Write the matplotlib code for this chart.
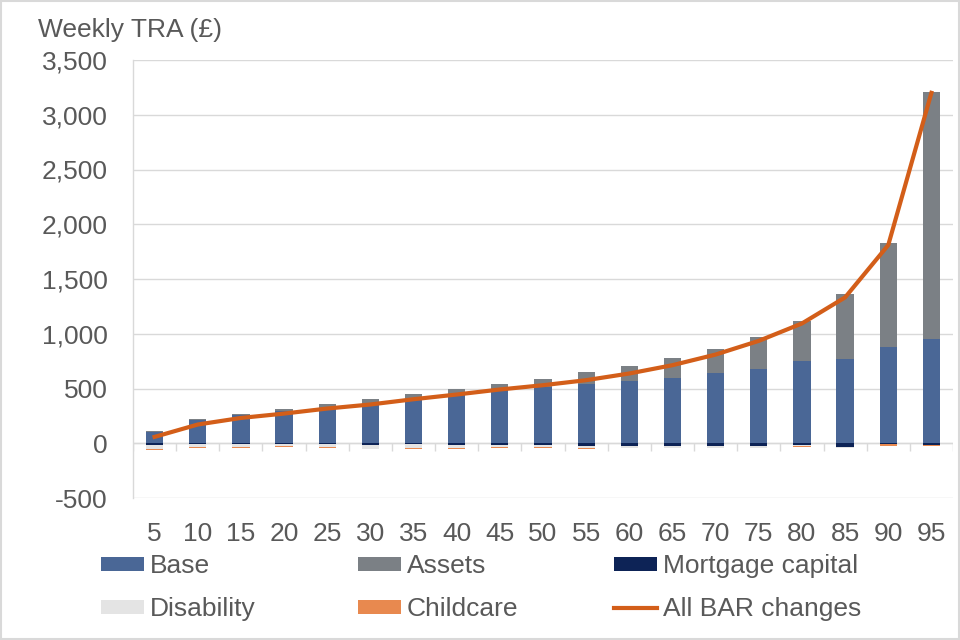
import matplotlib
matplotlib.use('Agg')
import matplotlib.pyplot as plt
from matplotlib.patches import Rectangle
import numpy as np

plt.rcParams['font.family'] = ['Liberation Sans', 'DejaVu Sans']

# data (weekly TRA, £)
percentiles = ['5', '10', '15', '20', '25', '30', '35', '40', '45', '50',
               '55', '60', '65', '70', '75', '80', '85', '90', '95']
base = [100, 215, 262, 295, 326, 363, 408, 448, 500, 515,
        539, 573, 600, 642, 678, 752, 771, 880, 953]
assets = [12, 4, 9, 15, 28, 39, 40, 46, 37, 70,
          110, 131, 174, 217, 290, 366, 591, 951, 2258]
mortgage = [-15, -8, -5, -3, -3, -12, -8, -12, -12, -18,
            -22, -25, -22, -27, -27, -15, -30, -8, -12]
disability = [-40, -25, -30, -25, -35, -40, -35, -30, -25, -20,
              -25, -15, -18, -12, -12, -12, -10, -3, -8]
childcare = [-8, -6, -5, -6, -3, -3, -5, -10, -5, -3,
             -3, -3, -5, -3, -3, -6, -3, -12, -3]
all_bar = [58, 171, 231, 271, 317, 354, 402, 445, 491, 530,
           576, 637, 713, 810, 935, 1094, 1332, 1810, 3200]

colors = {
    'base': '#4A6796',
    'assets': '#7B8085',
    'mortgage': '#0D2356',
    'disability': '#E4E4E4',
    'childcare': '#E8894F',
    'line': '#D35E19',
    'grid': '#D9D9D9',
    'text': '#595959',
}
FS = 19

fig = plt.figure(figsize=(9.6, 6.4), dpi=100)
fig.patch.set_facecolor('white')
ax = fig.add_axes([133 / 960, 1 - 498 / 640, 820 / 960, 438 / 640])

x = np.arange(len(percentiles))
w = 0.4
base = np.array(base)
mortgage = np.array(mortgage)
disability = np.array(disability)

b_base = ax.bar(x, base, w, color=colors['base'], zorder=2)
b_assets = ax.bar(x, assets, w, bottom=base, color=colors['assets'], zorder=2)
b_mort = ax.bar(x, mortgage, w, color=colors['mortgage'], zorder=2)
b_dis = ax.bar(x, disability, w, bottom=mortgage, color=colors['disability'], zorder=2)
b_child = ax.bar(x, childcare, w, bottom=mortgage + disability,
                 color=colors['childcare'], zorder=2)
ln, = ax.plot(x, all_bar, color=colors['line'], lw=3, zorder=4)

ax.set_xlim(-0.5, len(x) - 0.5)
ax.set_ylim(-500, 3500)
ax.set_yticks(np.arange(-500, 3501, 500))
ax.set_yticklabels([f'{v:,}' for v in range(-500, 3501, 500)])
ax.set_xticks(x)
ax.set_xticklabels(percentiles)
ax.tick_params(axis='both', length=0, labelsize=FS, labelcolor=colors['text'])
ax.tick_params(axis='y', pad=18)
ax.tick_params(axis='x', pad=17.5)

ax.grid(axis='y', color=colors['grid'], lw=1, zorder=0)
for s in ['top', 'right', 'bottom']:
    ax.spines[s].set_visible(False)
ax.spines['left'].set_color(colors['grid'])
ax.spines['left'].set_linewidth(1)

# zero axis with category tick marks
ax.axhline(0, color=colors['grid'], lw=1, zorder=1)
ax.vlines(np.arange(-0.5, len(x)), -70, 0, color=colors['grid'], lw=1, zorder=1)

fig.text(38 / 960, 1 - 30 / 640, 'Weekly TRA (£)', ha='left', va='center',
         fontsize=FS, color=colors['text'])

# legend, laid out as three columns
cols = [
    ([b_base, b_dis], ['Base', 'Disability']),
    ([b_assets, b_child], ['Assets', 'Childcare']),
    ([b_mort, ln], ['Mortgage capital', 'All BAR changes']),
]
for xpos, (hs, labs) in zip([101, 358, 614], cols):
    leg = fig.legend(hs, labs, loc='upper left',
                     bbox_to_anchor=(xpos / 960, 1 - 554 / 640),
                     frameon=False, fontsize=FS, handlelength=1.63,
                     handleheight=0.45, handletextpad=0.23, labelspacing=0.72,
                     borderpad=0, borderaxespad=0)
    for t in leg.get_texts():
        t.set_color(colors['text'])

fig.add_artist(Rectangle((0.001, 0.001), 0.998, 0.998, transform=fig.transFigure,
                         fill=False, edgecolor=colors['grid'], lw=1.5))

fig.savefig('out.png', dpi=100, facecolor='white')
